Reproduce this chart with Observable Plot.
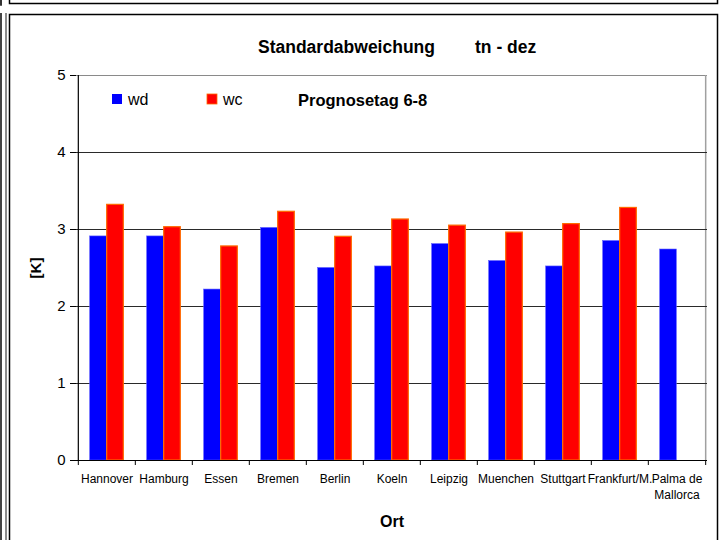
<!DOCTYPE html>
<html>
<head>
<meta charset="utf-8">
<script src="https://cdn.jsdelivr.net/npm/d3@7"></script>
<script src="https://cdn.jsdelivr.net/npm/@observablehq/plot@0.6"></script>
<style>
  html, body { margin: 0; padding: 0; background: #fff; }
  #chart { position: relative; width: 726px; height: 540px; overflow: hidden; }
  #chart svg { position: absolute; left: 0; top: 0; }
</style>
</head>
<body>
<div id="chart"></div>
<script>
// ---- data ----
const cities = ["Hannover", "Hamburg", "Essen", "Bremen", "Berlin", "Koeln", "Leipzig", "Muenchen", "Stuttgart", "Frankfurt/M.", "Palma de\nMallorca"];
const wd = [2.91, 2.91, 2.22, 3.02, 2.50, 2.52, 2.81, 2.59, 2.52, 2.85, 2.74];
const wc = [3.32, 3.03, 2.78, 3.23, 2.905, 3.13, 3.05, 2.96, 3.07, 3.28, null];
const yTicks = [0, 1, 2, 3, 4, 5];
const gridValues = [1, 2, 3, 4];
const seriesNames = ["wd", "wc"];
const seriesColors = ["#0000ff", "#ff0000"];
const titleText = "Standardabweichung";
const subtitleText = "tn - dez";
const noteText = "Prognosetag 6-8";
const yLabel = "[K]";
const xLabel = "Ort";

const wdData = cities.map((c, i) => ({city: c, value: wd[i]}));
const wcData = cities.map((c, i) => ({city: c, value: wc[i]})).filter(d => d.value != null);

const W = 726, H = 540;
const mL = 76, mR = 19, mT = 75, mB = 80;
const band = (W - mL - mR) / cities.length;
const barW = 17;
const off = (band - 2 * barW) / 2;

const svg = Plot.plot({
  width: W,
  height: H,
  marginLeft: mL,
  marginRight: mR,
  marginTop: mT,
  marginBottom: mB,
  style: {fontFamily: "'Liberation Sans', Arial, sans-serif", background: "transparent", color: "#000"},
  x: {domain: cities, padding: 0, label: null},
  y: {domain: [0, 5], label: null},
  marks: [
    // plot-area border (top & right, gray)
    Plot.ruleY([5], {stroke: "#8a8a8a", strokeWidth: 1.2}),
    Plot.ruleX([cities[cities.length - 1]], {dx: band / 2, stroke: "#a0a0a0", strokeWidth: 1.5}),
    // gridlines
    Plot.ruleY(gridValues, {stroke: "#2a2a2a", strokeWidth: 1}),
    // bars
    Plot.barY(wdData, {x: "city", y: "value", fill: seriesColors[0], stroke: "#5c5cff", strokeWidth: 0.6,
      insetLeft: off, insetRight: band - off - barW}),
    Plot.barY(wcData, {x: "city", y: "value", fill: seriesColors[1], stroke: "#ff6a00", strokeWidth: 1.2,
      insetLeft: off + barW, insetRight: off}),
    // axes lines
    Plot.ruleX([cities[0]], {dx: -band / 2, y1: 0, y2: 5, stroke: "#000", strokeWidth: 1.2}),
    Plot.ruleY([0], {stroke: "#000", strokeWidth: 1.2, insetLeft: -6}),
    // x boundary ticks
    Plot.ruleX(cities, {x: d => d, dx: -band / 2, y1: 0, y2: 0, insetTop: 0, insetBottom: -5, stroke: "#000"}),
    Plot.ruleX([cities[cities.length - 1]], {dx: band / 2, y1: 0, y2: 0, insetTop: 0, insetBottom: -5, stroke: "#000"}),
    Plot.axisY({ticks: yTicks, tickSize: 6, tickPadding: 5, fontSize: 15, tickFormat: d => String(d), label: null}),
    Plot.axisX({tickSize: 0, tickPadding: 11, fontSize: 12, lineHeight: 1.35, label: null})
  ]
});

document.getElementById("chart").appendChild(svg);

const s = d3.select(svg);
const font = "'Liberation Sans', Arial, sans-serif";
// frames
const frames = s.append("g").attr("fill", "none");
frames.append("rect").attr("x", 9.5).attr("y", -10).attr("width", 708).attr("height", 13.5)
  .attr("stroke", "#000").attr("stroke-width", 1.5);
frames.append("rect").attr("x", 9.5).attr("y", 14.5).attr("width", 708).attr("height", 540)
  .attr("stroke", "#000").attr("stroke-width", 1.5);
frames.append("line").attr("x1", 1).attr("x2", 1).attr("y1", 0).attr("y2", 5).attr("stroke", "#333").attr("stroke-width", 2);
frames.append("line").attr("x1", 0).attr("x2", 2).attr("y1", 5).attr("y2", 5).attr("stroke", "#333").attr("stroke-width", 1.5);
frames.append("line").attr("x1", 1).attr("x2", 1).attr("y1", 13).attr("y2", 540).attr("stroke", "#444").attr("stroke-width", 2);
frames.append("line").attr("x1", 6).attr("x2", 6).attr("y1", 13).attr("y2", 540).attr("stroke", "#666").attr("stroke-width", 1.5);

// titles
const txt = s.append("g").attr("font-family", font).attr("fill", "#000").attr("text-anchor", "start");
txt.append("text").attr("x", 258).attr("y", 53).attr("font-size", 17.5).attr("font-weight", "bold").text(titleText);
txt.append("text").attr("x", 475).attr("y", 53).attr("font-size", 17.5).attr("font-weight", "bold").text(subtitleText);
txt.append("text").attr("x", 298).attr("y", 106).attr("font-size", 16.5).attr("font-weight", "bold").text(noteText);
// legend
const legX = [112, 207];
seriesNames.forEach((n, i) => {
  txt.append("rect").attr("x", legX[i]).attr("y", 94).attr("width", 10).attr("height", 10)
    .attr("fill", seriesColors[i]).attr("stroke", i ? "#ff6a00" : "none").attr("stroke-width", 0.8);
  txt.append("text").attr("x", legX[i] + 16).attr("y", 105).attr("font-size", 16).text(n);
});
// axis titles
txt.append("text").attr("transform", "translate(41,268) rotate(-90)").attr("text-anchor", "middle")
  .attr("font-size", 15).attr("font-weight", "bold").text(yLabel);
txt.append("text").attr("x", 392).attr("y", 527).attr("text-anchor", "middle")
  .attr("font-size", 16).attr("font-weight", "bold").text(xLabel);
</script>
</body>
</html>
